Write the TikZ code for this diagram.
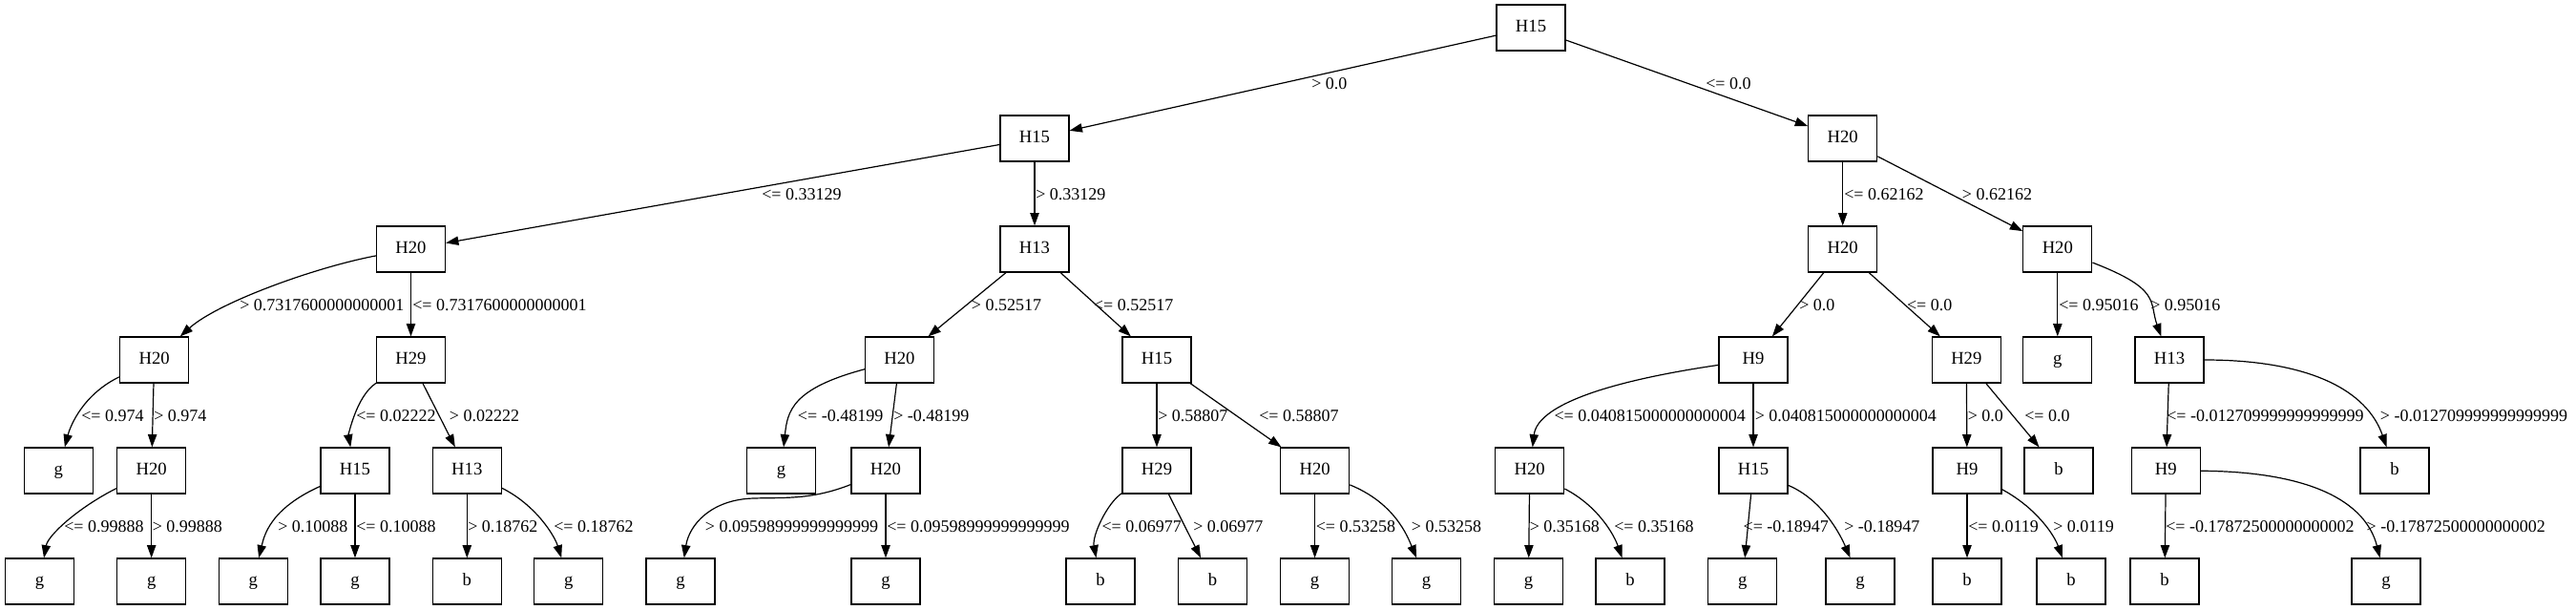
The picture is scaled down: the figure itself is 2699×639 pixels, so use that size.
\documentclass[tikz,border=0pt]{standalone}
\usepackage{fontspec}
\setmainfont{Liberation Serif}
\usetikzlibrary{arrows.meta}
\begin{document}
\begin{tikzpicture}[x=0.75pt,y=-0.75pt,
  box/.style={draw,line width=0.9pt,minimum width=54pt,minimum height=36pt,inner sep=0pt,
    font=\fontsize{14pt}{16pt}\selectfont,text height=10pt,text depth=3pt},
  lbl/.style={anchor=west,inner sep=0pt,font=\fontsize{13.5pt}{16pt}\selectfont,text height=9.2pt,text depth=0pt},
  edge/.style={line width=0.9pt,-{Triangle[length=10pt,width=7pt]}}]
\useasboundingbox[fill=white] (0,0) rectangle (2699,639);
% row 0
\node[box] (r) at (1604,29) {H15};
% row 1
\node[box] (a1) at (1084,145) {H15};
\node[box] (a2) at (1930.7,145) {H20};
% row 2
\node[box] (b1) at (430.5,261) {H20};
\node[box] (b2) at (1084,261) {H13};
\node[box] (b3) at (1930.7,261) {H20};
\node[box] (b4) at (2155.8,261) {H20};
% row 3
\node[box] (c1) at (161.6,377) {H20};
\node[box] (c2) at (430.5,377) {H29};
\node[box] (c3) at (942.5,377) {H20};
\node[box] (c4) at (1212,377) {H15};
\node[box] (c5) at (1837,377) {H9};
\node[box] (c6) at (2060.3,377) {H29};
\node[box] (c7) at (2155.8,377) {g};
\node[box] (c8) at (2273,377) {H13};
% row 4
\node[box] (d1) at (61.4,493) {g};
\node[box] (d2) at (158.7,493) {H20};
\node[box] (d3) at (372,493) {H15};
\node[box] (d4) at (489.3,493) {H13};
\node[box] (d5) at (818.5,493) {g};
\node[box] (d6) at (928,493) {H20};
\node[box] (d7) at (1212,493) {H29};
\node[box] (d8) at (1377.6,493) {H20};
\node[box] (d9) at (1602.7,493) {H20};
\node[box] (d10) at (1837,493) {H15};
\node[box] (d11) at (2061,493) {H9};
\node[box] (d12) at (2157,493) {b};
\node[box] (d13) at (2269.3,493) {H9};
\node[box] (d14) at (2509,493) {b};
% row 5
\node[box] (e1) at (41.6,609) {g};
\node[box] (e2) at (158.7,609) {g};
\node[box] (e3) at (265.2,609) {g};
\node[box] (e4) at (372,609) {g};
\node[box] (e5) at (489.3,609) {b};
\node[box] (e6) at (595.8,609) {g};
\node[box] (e7) at (713,609) {g};
\node[box] (e8) at (928,609) {g};
\node[box] (e9) at (1153,609) {b};
\node[box] (e10) at (1270.5,609) {b};
\node[box] (e11) at (1377.6,609) {g};
\node[box] (e12) at (1494.4,609) {g};
\node[box] (e13) at (1601.5,609) {g};
\node[box] (e14) at (1708,609) {b};
\node[box] (e15) at (1825.8,609) {g};
\node[box] (e16) at (1949,609) {g};
\node[box] (e17) at (2061,609) {b};
\node[box] (e18) at (2170,609) {b};
\node[box] (e19) at (2268,609) {b};
\node[box] (e20) at (2500,609) {g};
% edges
\draw[edge] (r) -- (a1);
\draw[edge] (r) -- (a2);
\draw[edge] (a1) -- (b1);
\draw[edge] (a1) -- (b2);
\draw[edge] (a2) -- (b3);
\draw[edge] (a2) -- (b4);
\draw[edge] (b1) .. controls (330,280) and (228,317) .. (c1);
\draw[edge] (b1) -- (c2);
\draw[edge] (b2) -- (c3);
\draw[edge] (b2) -- (c4);
\draw[edge] (b3) -- (c5);
\draw[edge] (b3) -- (c6);
\draw[edge] (b4) -- (c7);
\draw[edge] (b4) .. controls (2265,303) and (2251.5,316.25) .. (c8);
\draw[edge] (c1) .. controls (87.6,413) and (74,445) .. (d1);
\draw[edge] (c1) -- (d2);
\draw[edge] (c2) .. controls (372.9,415.4) and (365.1,457) .. (d3);
\draw[edge] (c2) -- (d4);
\draw[edge] (c3) .. controls (830,407) and (825,430.6) .. (d5);
\draw[edge] (c3) -- (d6);
\draw[edge] (c4) -- (d7);
\draw[edge] (c4) -- (d8);
\draw[edge] (c5) .. controls (1621,408.8) and (1608.7,443.6) .. (d9);
\draw[edge] (c5) -- (d10);
\draw[edge] (c6) -- (d11);
\draw[edge] (c6) -- (d12);
\draw[edge] (c8) -- (d13);
\draw[edge] (c8) .. controls (2420,377) and (2480,409) .. (d14);
\draw[edge] (d2) .. controls (81,532.3) and (50.2,561) .. (e1);
\draw[edge] (d2) -- (e2);
\draw[edge] (d3) .. controls (283,533) and (276.8,561) .. (e3);
\draw[edge] (d3) -- (e4);
\draw[edge] (d4) -- (e5);
\draw[edge] (d4) .. controls (561.3,529) and (581,561) .. (e6);
\draw[edge] (d6) .. controls (850,524) and (820,521) .. (790,522) .. controls (745,523) and (722,550) .. (e7);
\draw[edge] (d6) -- (e8);
\draw[edge] (d7) .. controls (1160.2,526.6) and (1144.2,561) .. (e9);
\draw[edge] (d7) -- (e10);
\draw[edge] (d8) -- (e11);
\draw[edge] (d8) .. controls (1460.9,526.8) and (1474.4,561) .. (e12);
\draw[edge] (d9) -- (e13);
\draw[edge] (d9) .. controls (1674.9,530.4) and (1691.4,561) .. (e14);
\draw[edge] (d10) -- (e15);
\draw[edge] (d10) .. controls (1909.8,523.6) and (1928.6,561) .. (e16);
\draw[edge] (d11) -- (e17);
\draw[edge] (d11) .. controls (2134.2,532.4) and (2152.4,561) .. (e18);
\draw[edge] (d13) -- (e19);
\draw[edge] (d13) .. controls (2420,494) and (2478.3,525) .. (e20);
% labels row 0-1
\node[lbl] (l01) at (1374,87) {> 0.0};
\node[lbl] (l02) at (1787,87) {<= 0.0};
% labels row 1-2
\node[lbl] (l11) at (798,203) {<= 0.33129};
\node[lbl] (l12) at (1085,203) {> 0.33129};
\node[lbl] (l13) at (1932,203) {<= 0.62162};
\node[lbl] (l14) at (2055.7,203) {> 0.62162};
% labels row 2-3
\node[lbl] (l21) at (251,319) {> 0.7317600000000001};
\node[lbl] (l22) at (432,319) {<= 0.7317600000000001};
\node[lbl] (l23) at (1017.7,319) {> 0.52517};
\node[lbl] (l24) at (1145.7,319) {<= 0.52517};
\node[lbl] (l25) at (1885,319) {> 0.0};
\node[lbl] (l26) at (1997.8,319) {<= 0.0};
\node[lbl] (l27) at (2157,319) {<= 0.95016};
\node[lbl] (l28) at (2253,319) {> 0.95016};
% labels row 3-4
\node[lbl] (l31) at (85,435) {<= 0.974};
\node[lbl] (l32) at (161,435) {> 0.974};
\node[lbl] (l33) at (373,435) {<= 0.02222};
\node[lbl] (l34) at (470.7,435) {> 0.02222};
\node[lbl] (l35) at (835.7,435) {<= -0.48199};
\node[lbl] (l36) at (936,435) {> -0.48199};
\node[lbl] (l37) at (1213,435) {> 0.58807};
\node[lbl] (l38) at (1319,435) {<= 0.58807};
\node[lbl] (l39) at (1628.3,435) {<= 0.040815000000000004};
\node[lbl] (l310) at (1838.5,435) {> 0.040815000000000004};
\node[lbl] (l311) at (2061.5,435) {> 0.0};
\node[lbl] (l312) at (2121,435) {<= 0.0};
\node[lbl] (l313) at (2270,435) {<= -0.012709999999999999};
\node[lbl] (l314) at (2493.7,435) {> -0.012709999999999999};
% labels row 4-5
\node[lbl] (l41) at (67,551) {<= 0.99888};
\node[lbl] (l42) at (159.5,551) {> 0.99888};
\node[lbl] (l43) at (291,551) {> 0.10088};
\node[lbl] (l44) at (373,551) {<= 0.10088};
\node[lbl] (l45) at (490,551) {> 0.18762};
\node[lbl] (l46) at (580,551) {<= 0.18762};
\node[lbl] (l47) at (738.7,551) {> 0.09598999999999999};
\node[lbl] (l48) at (929,551) {<= 0.09598999999999999};
\node[lbl] (l49) at (1154.3,551) {<= 0.06977};
\node[lbl] (l410) at (1250,551) {> 0.06977};
\node[lbl] (l411) at (1378.5,551) {<= 0.53258};
\node[lbl] (l412) at (1478.6,551) {> 0.53258};
\node[lbl] (l413) at (1602.5,551) {> 0.35168};
\node[lbl] (l414) at (1691,551) {<= 0.35168};
\node[lbl] (l415) at (1826.4,551) {<= -0.18947};
\node[lbl] (l416) at (1932,551) {> -0.18947};
\node[lbl] (l417) at (2062,551) {<= 0.0119};
\node[lbl] (l418) at (2151,551) {> 0.0119};
\node[lbl] (l419) at (2269,551) {<= -0.17872500000000002};
\node[lbl] (l420) at (2479.4,551) {> -0.17872500000000002};
\end{tikzpicture}
\end{document}
